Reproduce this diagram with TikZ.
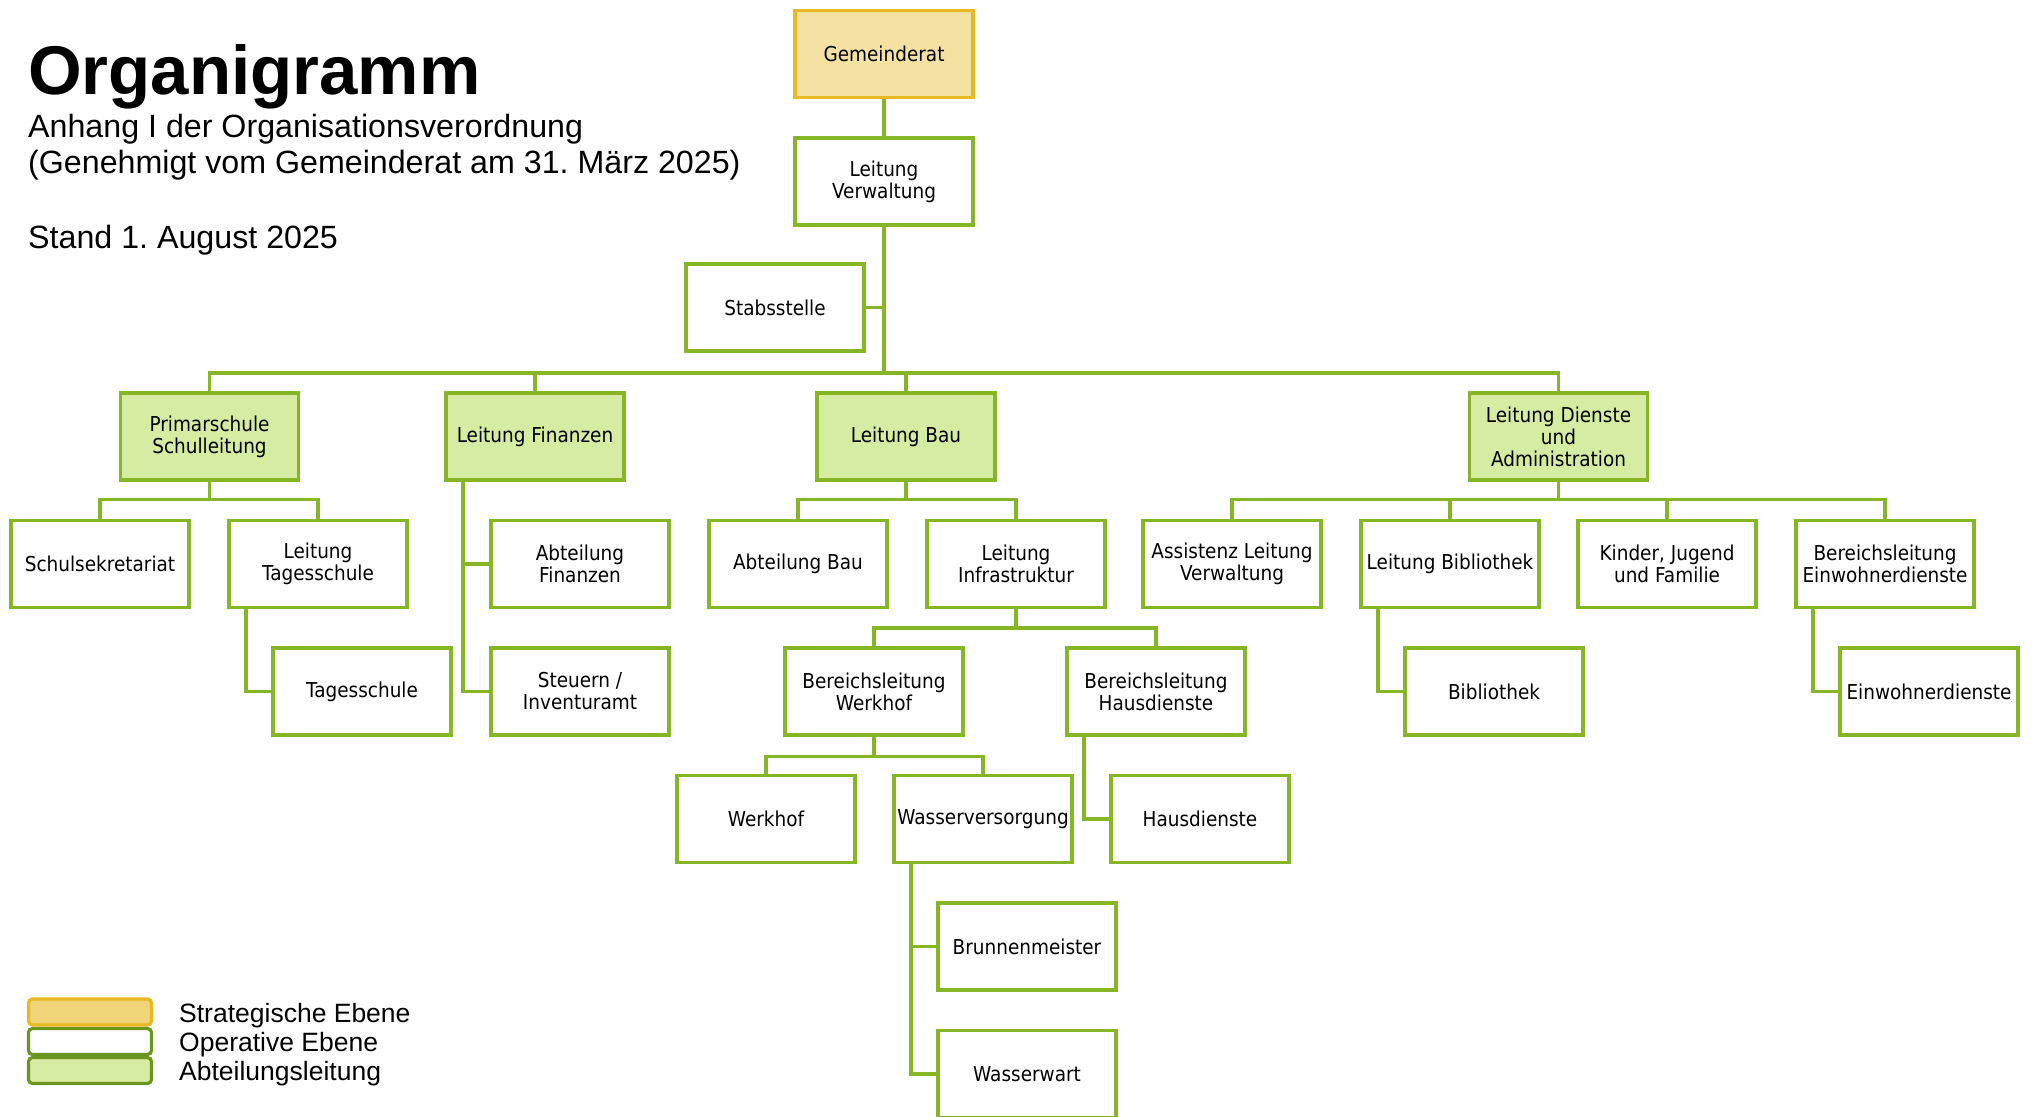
\documentclass[tikz,border=0pt]{standalone}
\usepackage{xcolor}
\usepackage{fontspec}
\setmainfont{Liberation Sans}
\newfontfamily\boxfont[FakeStretch=0.9]{DejaVu Sans}
\usepackage{tikz}
\usetikzlibrary{positioning,calc}
\frenchspacing
\definecolor{linegreen}{RGB}{134,181,38}
\definecolor{headfill}{RGB}{213,236,162}
\definecolor{councilfill}{RGB}{245,226,163}
\definecolor{councildraw}{RGB}{232,185,35}
\definecolor{legendyellow}{RGB}{239,212,120}
\definecolor{legenddraw}{RGB}{106,150,31}
\tikzstyle{unit} = [draw=linegreen, line width=3.5pt, fill=white, rectangle,
    minimum width=178pt, minimum height=87pt, inner sep=0pt, align=center,
    font=\boxfont\fontsize{20.5}{22}\selectfont]
\tikzstyle{head} = [unit, fill=headfill]
\tikzstyle{council} = [unit, draw=councildraw, fill=councilfill]
\tikzstyle{link} = [draw=linegreen, line width=3.3pt]
\tikzstyle{legendbox} = [draw=legenddraw, line width=3.2pt, rounded corners=4pt,
    minimum width=123pt, minimum height=26pt, inner sep=0pt]
\tikzstyle{legendtext} = [anchor=base west, inner sep=0pt, font=\fontsize{26.5}{28}\selectfont]
\tikzstyle{subtext} = [anchor=base west, inner sep=0pt, font=\fontsize{32.2}{36}\selectfont]
\begin{document}
\begin{tikzpicture}[x=1pt, y=1pt, auto, node distance=127.5pt]
    \useasboundingbox (0,0) rectangle (2033,-1116);
    % Title block
    \node [anchor=base west, inner sep=0pt, font=\bfseries\fontsize{69}{70}\selectfont]
        (title) at (28,-94) {Organigramm};
    \node [subtext] (subtitle) at (28,-137) {Anhang I der Organisationsverordnung};
    \node [subtext] (approval) at (28,-173) {(Genehmigt vom Gemeinderat am 31. März 2025)};
    \node [subtext] (stand) at (28,-248) {Stand 1. August 2025};

    % We start by placing the top of the tree
    \node [council] (gemeinderat) at (884,-54) {Gemeinderat};
    \node [unit, below of=gemeinderat] (verwaltung) {Leitung\\Verwaltung};
    \node [unit, below of=verwaltung, node distance=126pt, xshift=-109pt]
        (stabsstelle) {Stabsstelle};
    \coordinate (bus) at (884,-373);

    % The four departments
    \node [head, below of=verwaltung, node distance=255pt, xshift=22pt] (bau) {Leitung Bau};
    \node [head, left of=bau, node distance=371pt] (finanzen) {Leitung Finanzen};
    \node [head, left of=finanzen, node distance=325.5pt] (primar) {Primarschule\\Schulleitung};
    \node [head, right of=bau, node distance=652.5pt] (dienste) {Leitung Dienste\\und\\Administration};

    % Primarschule
    \node [unit, below of=primar, xshift=-109.5pt] (schulsek) {Schulsekretariat};
    \node [unit, right of=schulsek, node distance=218pt] (leitts) {Leitung\\Tagesschule};
    \node [unit, below of=leitts, xshift=44pt] (tagesschule) {Tagesschule};

    % Finanzen
    \node [unit, below of=finanzen, xshift=45pt] (abtfin) {Abteilung\\Finanzen};
    \node [unit, below of=abtfin] (steuern) {Steuern /\\Inventuramt};

    % Bau
    \node [unit, below of=bau, xshift=-108pt] (abtbau) {Abteilung Bau};
    \node [unit, right of=abtbau, node distance=218pt] (infra) {Leitung\\Infrastruktur};
    \node [unit, below of=infra, xshift=-142pt] (blwerkhof) {Bereichsleitung\\Werkhof};
    \node [unit, right of=blwerkhof, node distance=282pt] (blhaus) {Bereichsleitung\\Hausdienste};
    \node [unit, below of=blwerkhof, xshift=-108pt] (werkhof) {Werkhof};
    \node [unit, right of=werkhof, node distance=217pt] (wasserv) {Wasserversorgung};
    \node [unit, below of=blhaus, xshift=44pt] (hausdienste) {Hausdienste};
    \node [unit, below of=wasserv, xshift=44pt] (brunnen) {Brunnenmeister};
    \node [unit, below of=brunnen] (wasserwart) {Wasserwart};

    % Dienste und Administration
    \node [unit, below of=dienste, xshift=-326.5pt] (assistenz) {Assistenz Leitung\\Verwaltung};
    \node [unit, right of=assistenz, node distance=218pt] (leitbib) {Leitung Bibliothek};
    \node [unit, right of=leitbib, node distance=217pt] (kinder) {Kinder, Jugend\\und Familie};
    \node [unit, right of=kinder, node distance=218pt] (bleinw) {Bereichsleitung\\Einwohnerdienste};
    \node [unit, below of=leitbib, xshift=44pt] (bibliothek) {Bibliothek};
    \node [unit, below of=bleinw, xshift=44pt] (einwohner) {Einwohnerdienste};

    % Bus coordinates below each parent
    \coordinate (primarbus) at ($(primar)+(0,-63)$);
    \coordinate (baubus) at ($(bau)+(0,-63)$);
    \coordinate (infrabus) at ($(infra)+(0,-64)$);
    \coordinate (werkhofbus) at ($(blwerkhof)+(0,-65)$);
    \coordinate (dienstebus) at ($(dienste)+(0,-63)$);

    % Once the nodes are placed, connecting them is easy.
    \draw [link] (gemeinderat) -- (verwaltung);
    \draw [link] (verwaltung) -- (bus);
    \draw [link] (stabsstelle) -- (stabsstelle -| bus);
    \draw [link] (bus) -| (primar);
    \draw [link] (bus) -| (finanzen);
    \draw [link] (bus) -| (bau);
    \draw [link] (bus) -| (dienste);

    \draw [link] (primar) -- (primarbus);
    \draw [link] (primarbus) -| (schulsek);
    \draw [link] (primarbus) -| (leitts);
    \draw [link] ([xshift=-72pt]leitts.south) |- (tagesschule);

    \draw [link] ([xshift=-72pt]finanzen.south) |- (abtfin);
    \draw [link] ([xshift=-72pt]finanzen.south) |- (steuern);

    \draw [link] (bau) -- (baubus);
    \draw [link] (baubus) -| (abtbau);
    \draw [link] (baubus) -| (infra);
    \draw [link] (infra) -- (infrabus);
    \draw [link] (infrabus) -| (blwerkhof);
    \draw [link] (infrabus) -| (blhaus);
    \draw [link] (blwerkhof) -- (werkhofbus);
    \draw [link] (werkhofbus) -| (werkhof);
    \draw [link] (werkhofbus) -| (wasserv);
    \draw [link] ([xshift=-72pt]blhaus.south) |- (hausdienste);
    \draw [link] ([xshift=-72pt]wasserv.south) |- (brunnen);
    \draw [link] ([xshift=-72pt]wasserv.south) |- (wasserwart);

    \draw [link] (dienste) -- (dienstebus);
    \draw [link] (dienstebus) -| (assistenz);
    \draw [link] (dienstebus) -| (leitbib);
    \draw [link] (dienstebus) -| (kinder);
    \draw [link] (dienstebus) -| (bleinw);
    \draw [link] ([xshift=-72pt]leitbib.south) |- (bibliothek);
    \draw [link] ([xshift=-72pt]bleinw.south) |- (einwohner);

    % Legend
    \node [legendbox, draw=councildraw, fill=legendyellow] (legstrat) at (90,-1012) {};
    \node [legendbox, fill=white] (legoper) at (90,-1041.5) {};
    \node [legendbox, fill=headfill] (legabt) at (90,-1070.5) {};
    \node [legendtext] (txtstrat) at (179,-1022) {Strategische Ebene};
    \node [legendtext] (txtoper) at (179,-1051) {Operative Ebene};
    \node [legendtext] (txtabt) at (179,-1080) {Abteilungsleitung};
\end{tikzpicture}
\end{document}
